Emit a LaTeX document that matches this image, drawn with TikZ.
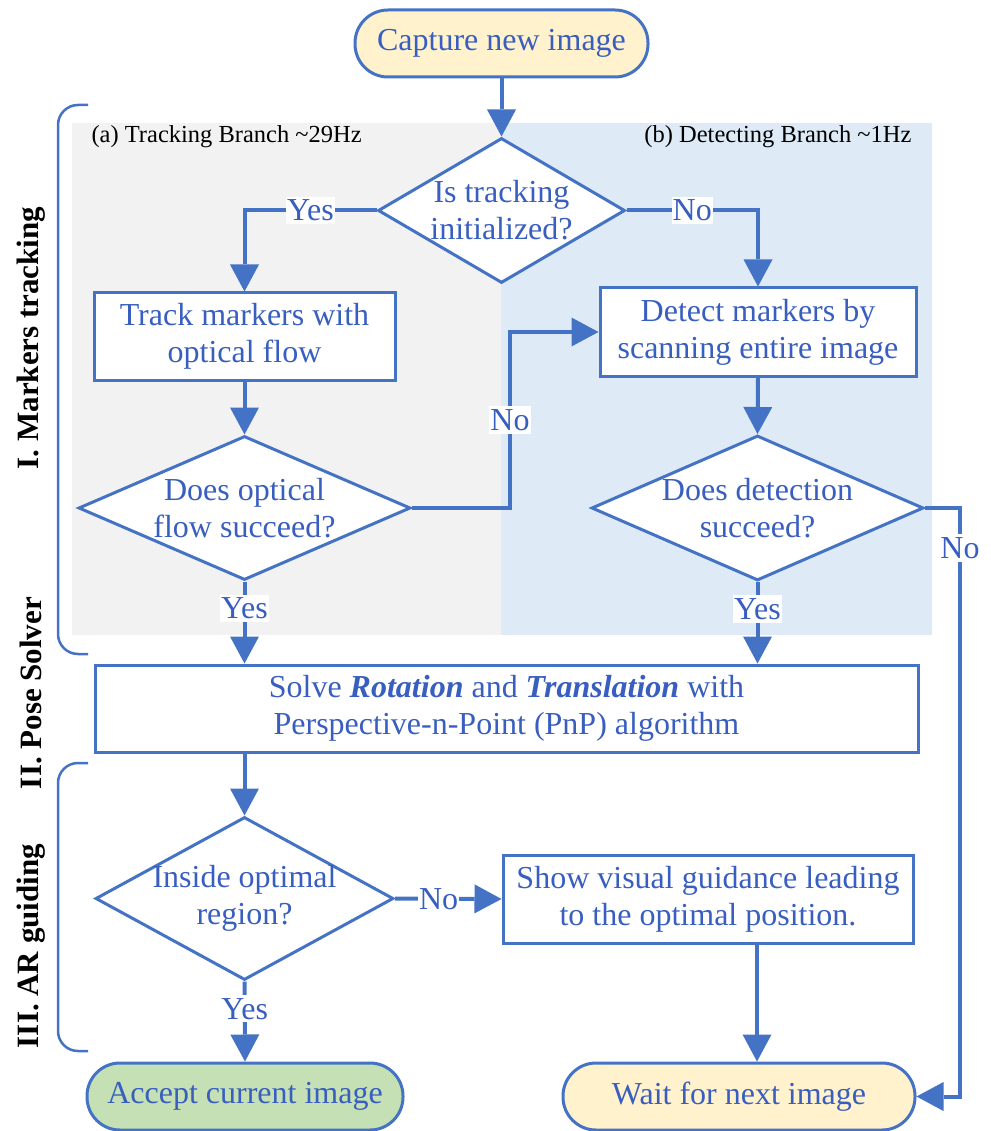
\documentclass[tikz,border=0pt]{standalone}
\usepackage{fontspec}
\setmainfont{Liberation Serif}
\usetikzlibrary{shapes.geometric,arrows.meta}
\definecolor{flowblue}{RGB}{68,114,196}
\definecolor{inkblue}{RGB}{56,94,192}
\definecolor{tracegray}{RGB}{242,242,242}
\definecolor{detectblue}{RGB}{222,235,247}
\definecolor{startyellow}{RGB}{255,242,204}
\definecolor{acceptgreen}{RGB}{197,224,180}

\begin{document}
\begin{tikzpicture}[x=1pt, y=-1pt,
  txt/.style={text=inkblue, align=center, font=\fontsize{32}{37}\selectfont},
  proc/.style={txt, draw=flowblue, line width=3pt, fill=white, minimum height=87pt, inner sep=0pt},
  term/.style={proc, rounded corners=33pt, minimum height=67pt},
  dec/.style={diamond, draw=flowblue, line width=3pt, fill=white, inner sep=0pt},
  flow/.style={draw=flowblue, line width=4pt, -{Triangle[width=29pt,length=27pt,line width=0pt]}},
  lab/.style={txt, fill=white, inner xsep=1pt, inner ysep=3pt},
  bracket/.style={draw=flowblue, line width=2.5pt, rounded corners=20pt},
  stage/.style={rotate=90, font=\bfseries\fontsize{31}{31}\selectfont},
  branch/.style={font=\fontsize{24.5}{26}\selectfont}]
\useasboundingbox (0,0) rectangle (990,1131);

% === Branch panels ===
\fill[tracegray] (72,123) rectangle (501,635);
\fill[detectblue] (501,123) rectangle (932,635);
\node[branch, anchor=west] (trk) at (88,137) {(a) Tracking Branch \textasciitilde29Hz};
\node[branch, anchor=east] (det) at (915,137) {(b) Detecting Branch \textasciitilde1Hz};

% === Stage brackets and titles ===
\draw[bracket] (88,105) -- (58,105) -- (58,654) -- (88,654);
\draw[bracket] (88,763) -- (58,763) -- (58,1051) -- (88,1051);
\node[stage] (s1) at (31,338) {I. Markers tracking};
\node[stage] (s2) at (31,693) {II. Pose Solver};
\node[stage] (s3) at (31,946) {III. AR guiding};

% === Steps ===
\node[term, fill=startyellow, minimum width=293pt] (cap) at (501.5,43.5) {Capture new image};
\node[dec, minimum width=247pt, minimum height=145pt] (d1) at (501.5,210.5) {};
\node[txt] (d1t) at (d1) {Is tracking\\initialized?};
\node[proc, minimum width=301pt] (track) at (244.5,336.5) {Track markers with\\optical flow};
\node[proc, minimum width=316pt, minimum height=88pt] (detect) at (758,332) {Detect markers by\\scanning entire image};
\node[dec, minimum width=332pt, minimum height=144pt] (d2) at (244.5,508) {};
\node[txt] (d2t) at (d2) {Does optical\\flow succeed?};
\node[dec, minimum width=332pt, minimum height=145pt] (d3) at (757.5,508) {};
\node[txt] (d3t) at (d3) {Does detection\\succeed?};
\node[proc, minimum width=823pt] (pose) at (506.5,708.5)
  {Solve \textbf{\textit{Rotation}} and \textbf{\textit{Translation}} with\\Perspective-n-Point (PnP) algorithm};
\node[dec, minimum width=298pt, minimum height=163pt] (d4) at (244.5,898.5) {};
\node[txt] (d4t) at (d4) {Inside optimal\\region?};
\node[proc, minimum width=410pt, minimum height=88pt] (show) at (708,899) {Show visual guidance leading\\to the optimal position.};
\node[term, fill=acceptgreen, minimum width=316pt] (acc) at (245,1096.5) {Accept current image};
\node[term, fill=startyellow, minimum width=352pt] (wait) at (739,1096.5) {Wait for next image};

% === Connectors ===
\coordinate (nobend) at (510,508);
\coordinate (norail) at (960,508);
\draw[flow] (cap.south) -- (d1.north);
\draw[flow] (d1.west) -| node[lab, pos=0.25] {Yes} (track.north);
\draw[flow] (d1.east) -| node[lab, pos=0.25] {No} (detect.north);
\draw[flow] (track.south) -- (d2.north);
\draw[flow] (detect.south) -- (d3.north);
\draw[flow] (d2.east) -- (nobend) |- node[lab, pos=0.25] {No} (detect.west);
\draw[flow] (d3.east) -- (norail) |- node[lab, pos=0.034] {No} (wait.east);
\draw[flow] (d2.south) -- node[lab, pos=0.33] {Yes} (d2.south |- pose.north);
\draw[flow] (d3.south) -- node[lab, pos=0.33] {Yes} (d3.south |- pose.north);
\draw[flow] (pose.south -| d4.north) -- (d4.north);
\draw[flow] (d4.east) -- node[lab, pos=0.41] {No} (show.west);
\draw[flow] ([xshift=49pt]show.south) -- ([xshift=18pt]wait.north);
\draw[flow] (d4.south) -- node[lab, pos=0.34] {Yes} (acc.north);
\end{tikzpicture}
\end{document}
